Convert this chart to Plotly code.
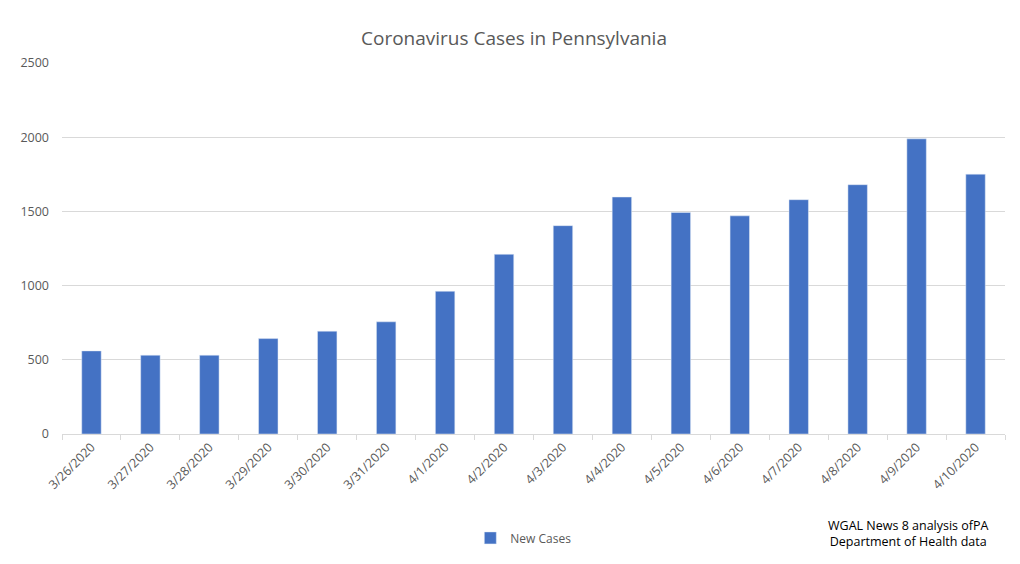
import plotly.graph_objects as go

dates = ["3/26/2020","3/27/2020","3/28/2020","3/29/2020","3/30/2020","3/31/2020","4/1/2020","4/2/2020",
         "4/3/2020","4/4/2020","4/5/2020","4/6/2020","4/7/2020","4/8/2020","4/9/2020","4/10/2020"]
new_cases = [560, 531, 531, 643, 693, 756, 962, 1211, 1404, 1597, 1493, 1470, 1579, 1680, 1989, 1751]

fig = go.Figure(go.Bar(x=dates, y=new_cases, name="New Cases", marker_color="#4472C4"))
fig.update_layout(
    width=1012, height=556, paper_bgcolor="white", plot_bgcolor="white",
    font=dict(family="Open Sans, Liberation Sans, sans-serif", color="#595959", size=12),
    title=dict(text="Coronavirus Cases in Pennsylvania", x=0.5, xanchor="center", y=0.945, yanchor="middle",
               font=dict(size=19, color="#595959"), automargin=False),
    margin=dict(l=54, r=15, t=55, b=130, autoexpand=False),
    bargap=0.67, showlegend=True,
    legend=dict(orientation="h", x=0.433, xanchor="left", y=-0.241, yanchor="top", font=dict(size=12),
                itemwidth=30),
    xaxis=dict(tickangle=-45, showline=True, linecolor="#D9D9D9", ticks="outside", tickcolor="#D9D9D9",
               ticklen=5, tickson="boundaries", tickfont=dict(size=12.5), automargin=False),
    yaxis=dict(range=[0, 2500], dtick=500, gridcolor="#D9D9D9", zeroline=False, tickfont=dict(size=12.5),
               automargin=False, ticklabelstandoff=12),
    annotations=[dict(text="WGAL News 8 analysis ofPA<br>Department of Health data", xref="paper", yref="paper",
                      x=0.898, y=-0.218, xanchor="center", yanchor="top", showarrow=False, align="center",
                      font=dict(size=12.5, color="black"))],
)
fig.write_html("out.html")
